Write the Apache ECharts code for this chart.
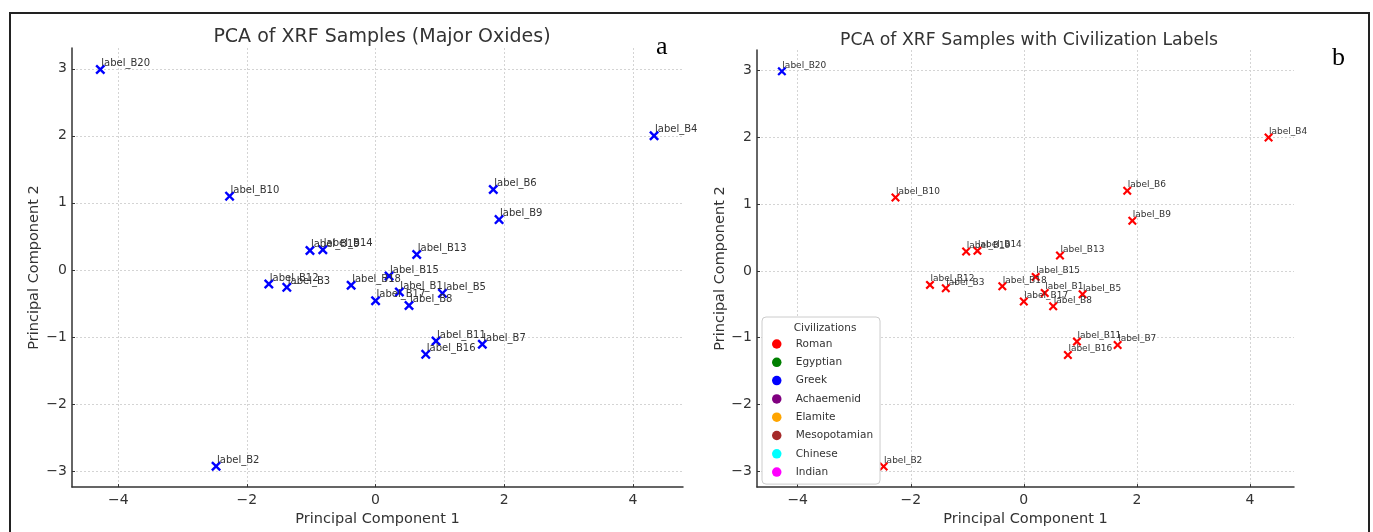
<!DOCTYPE html>
<html>
<head>
<meta charset="utf-8">
<script src="https://cdn.jsdelivr.net/npm/echarts@6/dist/echarts.min.js"></script>
<style>
html,body{margin:0;padding:0;background:#fff;}
#main{width:1373px;height:532px;}
</style>
</head>
<body>
<div id="main"></div>
<script>
// ---- data ----
const sampleNames = ['label_B20','label_B10','label_B4','label_B6','label_B9','label_B19','label_B14','label_B13','label_B12','label_B3','label_B18','label_B15','label_B1','label_B5','label_B17','label_B8','label_B11','label_B7','label_B16','label_B2'];
const pc1 = [-4.28,-2.27,4.33,1.83,1.92,-1.02,-0.82,0.64,-1.66,-1.38,-0.38,0.21,0.37,1.04,0.00,0.52,0.94,1.66,0.78,-2.48];
const pc2 = [2.99,1.10,2.00,1.20,0.75,0.29,0.30,0.23,-0.21,-0.26,-0.23,-0.09,-0.33,-0.35,-0.46,-0.53,-1.06,-1.11,-1.26,-2.93];
const civilization = ['Greek','Roman','Roman','Roman','Roman','Roman','Roman','Roman','Roman','Roman','Roman','Roman','Roman','Roman','Roman','Roman','Roman','Roman','Roman','Roman'];
const civNames = ['Roman','Egyptian','Greek','Achaemenid','Elamite','Mesopotamian','Chinese','Indian'];
const civColors = ['#ff0000','#008000','#0000ff','#800080','#ffa500','#a52a2a','#00ffff','#ff00ff'];
const xTicks = [-4,-2,0,2,4];
const yTicks = [-3,-2,-1,0,1,2,3];
const titleA = 'PCA of XRF Samples (Major Oxides)';
const titleB = 'PCA of XRF Samples with Civilization Labels';
const xName = 'Principal Component 1';
const yName = 'Principal Component 2';

// ---- chart ----
const FONT = 'DejaVu Sans';
const crossPath = 'path://M0,1.7 L1.7,0 L5,3.3 L8.3,0 L10,1.7 L6.7,5 L10,8.3 L8.3,10 L5,6.7 L1.7,10 L0,8.3 L3.3,5 Z';
const fmt = v => String(v).replace('-', '\u2212');

function points(filterCiv) {
  const out = [];
  for (let i = 0; i < sampleNames.length; i++) {
    if (filterCiv === null || civilization[i] === filterCiv) {
      out.push({ value: [pc1[i], pc2[i]], name: sampleNames[i] });
    }
  }
  return out;
}

function xAxisDef(gridIndex, nameGap) {
  return {
    type: 'value', gridIndex, min: -4.72, max: 4.78,
    name: xName, nameLocation: 'middle', nameGap,
    nameTextStyle: { fontFamily: FONT, fontSize: 14.5, color: '#333' },
    axisLine: { show: true, onZero: false, lineStyle: { color: '#333', width: 1.5 } },
    axisTick: { show: true, inside: true, length: 3, customValues: xTicks, lineStyle: { color: '#333' } },
    axisLabel: { customValues: xTicks, formatter: fmt, fontFamily: FONT, fontSize: 14, color: '#333', margin: 6 },
    splitLine: { show: true, lineStyle: { color: '#d4d4d4', type: [2, 2], width: 1 } }
  };
}
function yAxisDef(gridIndex, nameGap) {
  return {
    type: 'value', gridIndex, min: -3.24, max: 3.31,
    name: yName, nameLocation: 'middle', nameGap,
    nameTextStyle: { fontFamily: FONT, fontSize: 14.5, color: '#333' },
    axisLine: { show: true, onZero: false, lineStyle: { color: '#333', width: 1.5 } },
    axisTick: { show: true, inside: true, length: 3, customValues: yTicks, lineStyle: { color: '#333' } },
    axisLabel: { customValues: yTicks, formatter: fmt, fontFamily: FONT, fontSize: 14, color: '#333', margin: 5 },
    splitLine: { show: true, lineStyle: { color: '#d4d4d4', type: [2, 2], width: 1 } }
  };
}

const series = [{
  name: 'Samples', type: 'scatter', xAxisIndex: 0, yAxisIndex: 0,
  symbol: crossPath, symbolSize: 10,
  itemStyle: { color: '#0000ff', opacity: 1 },
  label: { show: true, formatter: '{b}', position: [6, -6], fontFamily: FONT, fontSize: 10, color: '#333' },
  data: points(null)
}];
civNames.forEach((c, k) => {
  series.push({
    name: c, type: 'scatter', xAxisIndex: 1, yAxisIndex: 1,
    symbol: crossPath, symbolSize: 9,
    itemStyle: { color: civColors[k], opacity: 1 },
    label: { show: true, formatter: '{b}', position: [5, -6], fontFamily: FONT, fontSize: 9, color: '#333' },
    data: points(c)
  });
});

const chart = echarts.init(document.getElementById('main'), null, { renderer: 'canvas' });
chart.setOption({
  backgroundColor: '#fff',
  animation: false,
  title: [
    { text: titleA, left: 377, top: 23, textAlign: 'center',
      textStyle: { fontFamily: FONT, fontSize: 19, fontWeight: 'normal', color: '#333' } },
    { text: titleB, left: 1024, top: 27, textAlign: 'center',
      textStyle: { fontFamily: FONT, fontSize: 17.3, fontWeight: 'normal', color: '#333' } },
    { text: 'Civilizations', left: 820, top: 318, textAlign: 'center', z: 10,
      textStyle: { fontFamily: FONT, fontSize: 10.5, fontWeight: 'normal', color: '#333' } }
  ],
  grid: [
    { left: 72, top: 48, width: 611, height: 443 },
    { left: 757, top: 50, width: 537, height: 443 }
  ],
  xAxis: [xAxisDef(0, 24), xAxisDef(1, 22)],
  yAxis: [yAxisDef(0, 30), yAxisDef(1, 29)],
  legend: {
    data: civNames.map(n => ({ name: n, icon: 'circle' })),
    orient: 'vertical', left: 762, top: 317,
    padding: [20, 7, 5, 10], itemGap: 4.3,
    itemWidth: 28, itemHeight: 9.5,
    backgroundColor: '#fff', borderColor: '#cccccc', borderWidth: 1, borderRadius: 4,
    itemStyle: { opacity: 1 },
    textStyle: { fontFamily: FONT, fontSize: 10.5, color: '#333', lineHeight: 14 },
    selectedMode: false
  },
  graphic: [
    { type: 'rect', shape: { x: 10, y: 13, width: 1359, height: 540 }, style: { fill: 'none', stroke: '#222', lineWidth: 2 }, silent: true },
    { type: 'text', left: 656, top: 34, style: { text: 'a', font: '26px "Liberation Serif"', fill: '#000' } },
    { type: 'text', left: 1332, top: 45, style: { text: 'b', font: '26px "Liberation Serif"', fill: '#000' } }
  ],
  series
});
</script>
</body>
</html>
